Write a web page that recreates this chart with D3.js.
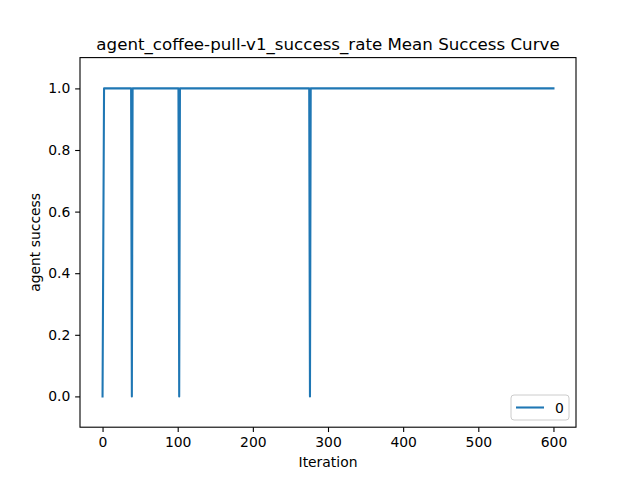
<!DOCTYPE html>
<html><head><meta charset="utf-8">
<script src="https://cdn.jsdelivr.net/npm/d3@7"></script>
<style>
html,body{margin:0;padding:0;background:#fff;}
svg{display:block;font-family:"DejaVu Sans",sans-serif;}
</style></head>
<body>
<svg id="c" width="640" height="480"></svg>
<script>
// Breakpoints of the mean success curve (iteration, success rate)
const iterations = [0, 2, 38, 39, 40, 101, 102, 103, 275, 276, 277, 600];
const successRate = [0, 1, 1, 0, 1, 1, 0, 1, 1, 0, 1, 1];
const xTicks = [0, 100, 200, 300, 400, 500, 600];
const yTicks = [0.0, 0.2, 0.4, 0.6, 0.8, 1.0];
const seriesName = "0";
const title = "agent_coffee-pull-v1_success_rate Mean Success Curve";

const svg = d3.select("#c");
const L = 80, R = 576, T = 57.6, B = 427.2;
const x = d3.scaleLinear().domain([-30, 630]).range([L, R]);
const y = d3.scaleLinear().domain([-0.1, 1.1]).range([B, T]);
const color = "#1f77b4";

// line
const data = iterations.map((d, i) => [d, successRate[i]]);
svg.append("path").datum(data)
  .attr("fill", "none").attr("stroke", color).attr("stroke-width", 2.08)
  .attr("stroke-linejoin", "round").attr("stroke-linecap", "square")
  .attr("d", d3.line().x(d => x(d[0])).y(d => y(d[1])));

// axes
const xa = svg.append("g").attr("transform", `translate(0,${B})`)
  .call(d3.axisBottom(x).tickValues(xTicks).tickSize(4.86).tickPadding(4.86).tickFormat(d3.format("d")));
const ya = svg.append("g").attr("transform", `translate(${L},0)`)
  .call(d3.axisLeft(y).tickValues(yTicks).tickSize(4.86).tickPadding(4.86).tickFormat(d3.format(".1f")));
[xa, ya].forEach(a => {
  a.select(".domain").remove();
  a.selectAll("line").attr("stroke", "#000").attr("stroke-width", 1.1);
  a.selectAll("text").attr("font-family", "DejaVu Sans").attr("font-size", "13.9px").attr("fill", "#000");
});

// frame
svg.append("rect").attr("x", L).attr("y", T).attr("width", R - L).attr("height", B - T)
  .attr("fill", "none").attr("stroke", "#000").attr("stroke-width", 1.1);

// title and labels
svg.append("text").attr("x", (L + R) / 2).attr("y", 50).attr("text-anchor", "middle")
  .attr("font-size", "16.67px").text(title);
svg.append("text").attr("x", (L + R) / 2).attr("y", 467).attr("text-anchor", "middle")
  .attr("font-size", "13.9px").text("Iteration");
svg.append("text").attr("transform", `translate(40,${(T + B) / 2}) rotate(-90)`).attr("text-anchor", "middle")
  .attr("font-size", "13.9px").text("agent success");

// legend
const lg = svg.append("g");
lg.append("rect").attr("x", 511).attr("y", 395).attr("width", 58).attr("height", 25).attr("rx", 3)
  .attr("fill", "#fff").attr("fill-opacity", 0.8).attr("stroke", "#ccc").attr("stroke-width", 1);
lg.append("line").attr("x1", 516).attr("x2", 544).attr("y1", 407.5).attr("y2", 407.5)
  .attr("stroke", color).attr("stroke-width", 2.08);
lg.append("text").attr("x", 555).attr("y", 412.5).attr("font-size", "13.9px").text(seriesName);
</script>
</body></html>
